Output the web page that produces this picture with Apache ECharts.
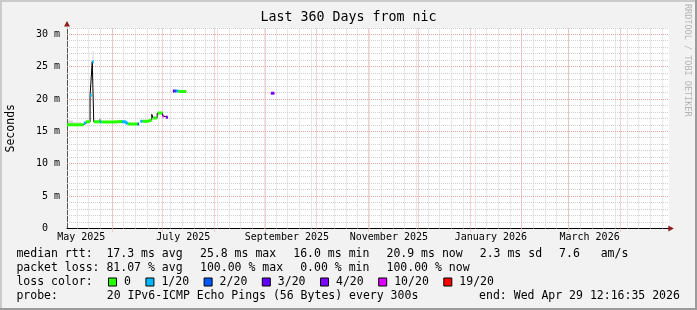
<!DOCTYPE html>
<html><head><meta charset="utf-8">
<script src="https://cdn.jsdelivr.net/npm/echarts@6/dist/echarts.min.js"></script>
<style>html,body{margin:0;padding:0;background:#f2f2f2}#c{width:697px;height:310px}</style>
</head><body><div id="c"></div>
<script>
// ---------- data ----------
const AXIS_START = '2025-05-05';   // left edge of the time axis
const AXIS_DAYS = 360;
const Y_MAX = 31;                  // ms

// median rtt as steps: days since axis start, value in ms, loss bucket (-1 = no colour)
const segStart = [0, 10.0, 11.2, 13.8, 15.1, 16.0, 19.5, 20.4, 27.5, 32.9, 34.7, 36.3, 42.3, 43.9, 45.1, 48.7, 50.7, 51.4, 53.9, 54.3, 57.1, 57.9, 59.1, 63.3, 64.5, 65.3, 66.6, 121.9];
const segEnd   = [10.0, 11.2, 13.8, 14.8, 16.0, 19.5, 20.4, 27.5, 32.9, 34.7, 36.3, 42.3, 43.1, 45.1, 48.7, 50.7, 51.4, 53.9, 54.3, 57.1, 57.9, 59.1, 60.3, 64.5, 65.3, 66.6, 71.3, 124.0];
const segValue = [16.05, 16.3, 16.5, 20.6, 25.8, 16.5, 16.5, 16.45, 16.55, 16.5, 16.2, 16.15, 16.15, 16.6, 16.6, 16.8, 17.65, 17.1, 17.8, 17.85, 17.4, 17.3, 17.2, 21.25, 21.25, 21.25, 21.2, 20.9];
const segLoss  = [0, 1, 0, 1, 1, 0, 1, 0, 0, 1, 1, 0, 2, 1, 0, 0, -1, 0, -1, 0, 5, -1, 4, 3, 2, 1, 0, 4];

// smoke (spread of the pings)
const smokeStart = [0.6, 3.6, 15.3, 19.2];
const smokeEnd   = [3.6, 8.2, 16.0, 20.4];
const smokeLow   = [16.25, 16.25, 25.8, 16.6];
const smokeHigh  = [16.7, 16.45, 27.5, 17.0];
const smokeShade = ['#d6d6d6', '#dadada', '#dedede', '#8c8c8c'];

const lossLabels = ['0', '1/20', '2/20', '3/20', '4/20', '10/20', '19/20'];
const lossColors = ['#26ff00', '#00b8ff', '#0059ff', '#5e00ff', '#7e00ff', '#dd00ff', '#ff0000'];

const monthLines = ['2025-06-01','2025-07-01','2025-08-01','2025-09-01','2025-10-01','2025-11-01','2025-12-01','2026-01-01','2026-02-01','2026-03-01','2026-04-01'];
const firstWeekLine = '2025-05-11';
const xLabelMonths = ['2025-05-01','2025-07-01','2025-09-01','2025-11-01','2026-01-01','2026-03-01'];
const xLabelText = ['May 2025','July 2025','September 2025','November 2025','January 2026','March 2026'];
const yMajorStep = 5;

const titleText = 'Last 360 Days from nic';
const yName = 'Seconds';
const rowLabels = ['median rtt:', 'packet loss:', 'loss color:', 'probe:'];
const medianStats = ['median rtt:  17.3 ms avg', '25.8 ms max', '16.0 ms min', '20.9 ms now', '2.3 ms sd', '7.6   am/s'];
const lossStats = ['packet loss: 81.07 % avg', '100.00 % max', '0.00 % min', '100.00 % now'];
const probeText = '20 IPv6-ICMP Echo Pings (56 Bytes) every 300s';
const endText = 'end: Wed Apr 29 12:16:35 2026';
const watermark = 'RRDTOOL / TOBI OETIKER';

// ---------- build ----------
const FONT = '"DejaVu Sans Mono", monospace';
const CHAR_W = 6.95, ITEM_GAP = 16.8, LEFT_X = 16.4;
const DAY = 86400000;
const t0 = Date.parse(AXIS_START + 'T00:00:00Z');
const dayOf = s => (Date.parse(s + 'T00:00:00Z') - t0) / DAY;
const LABEL_SHIFT = 12.5;

const monthDays = monthLines.map(dayOf);
const weekDays = [];
for (let d = dayOf(firstWeekLine); d < AXIS_DAYS; d += 7) weekDays.push(d);
const labelDays = xLabelMonths.map(s => dayOf(s) + LABEL_SHIFT);
const hLines = [];
for (let v = 1; v <= Y_MAX; v++) hLines.push(v);

// black median line
const medianPts = [];
for (let i = 0; i < segStart.length; i++) {
  if (i > 0 && segStart[i] - segEnd[i - 1] > 0.5) medianPts.push([segEnd[i - 1], '-']);
  medianPts.push([segStart[i], segValue[i]], [segEnd[i], segValue[i]]);
}
// coloured loss lines
function bucketPts(b) {
  const pts = [];
  for (let i = 0; i < segStart.length; i++) {
    if (segLoss[i] !== b) continue;
    pts.push([segStart[i], segValue[i]], [segEnd[i], segValue[i]]);
    const nextOk = i + 1 < segStart.length && segLoss[i + 1] === b && Math.abs(segStart[i + 1] - segEnd[i]) < 0.01;
    if (!nextOk) pts.push([segEnd[i], '-']);
  }
  return pts;
}

const RED = '#e9a2a2', GRAY = '#d0d0d0';
const crisp = v => Math.floor(v) + 0.5;

const series = [];
// vertical grid: weeks (kind 0) then months (kind 1)
series.push({
  type: 'custom', name: 'vgrid', z: 1, silent: true, animation: false, clip: false,
  data: weekDays.map(d => [d, 0]).concat(monthDays.map(d => [d, 1])),
  renderItem: (params, api) => {
    const p0 = api.coord([api.value(0), 0]);
    const p1 = api.coord([api.value(0), Y_MAX]);
    const x = crisp(p0[0]);
    const major = api.value(1) === 1;
    return { type: 'line', z2: major ? 2 : 1, shape: { x1: x, y1: p0[1] + (major ? 3 : 0), x2: x, y2: p1[1] },
      style: { stroke: major ? RED : GRAY, lineWidth: 1, lineDash: [1, 1] } };
  }
});
// horizontal grid
series.push({
  type: 'custom', name: 'hgrid', z: 1, silent: true, animation: false, clip: false,
  data: hLines.map(v => [0, v]),
  renderItem: (params, api) => {
    const v = api.value(1);
    const p0 = api.coord([0, v]);
    const p1 = api.coord([AXIS_DAYS, v]);
    const y = crisp(p0[1]);
    const major = v % yMajorStep === 0;
    return { type: 'line', z2: major ? 2 : 1, shape: { x1: p0[0], y1: y, x2: p1[0], y2: y },
      style: { stroke: major ? RED : GRAY, lineWidth: 1, lineDash: [1, 1] } };
  }
});
series.push({
  type: 'line', name: 'smoke', data: [], z: 2, silent: true, animation: false,
  markArea: {
    silent: true, animation: false,
    data: smokeStart.map((s, i) => [
      { xAxis: s, yAxis: smokeLow[i], itemStyle: { color: smokeShade[i] } },
      { xAxis: smokeEnd[i], yAxis: smokeHigh[i] }
    ])
  }
});
series.push({
  type: 'line', name: 'median', data: medianPts, z: 3, symbol: 'none', showSymbol: false,
  silent: true, animation: false, connectNulls: false,
  lineStyle: { width: 1, color: '#000' }
});
lossLabels.forEach((lab, b) => {
  series.push({
    type: 'line', name: lab, data: bucketPts(b), z: 4, symbol: 'none', showSymbol: false,
    silent: true, animation: false, connectNulls: false,
    itemStyle: { color: lossColors[b] },
    lineStyle: { width: 3, color: lossColors[b], cap: 'butt' }
  });
});

const txt = (text, x, y, extra) => ({ type: 'text', x, y, silent: true,
  style: Object.assign({ text, fill: '#000', fontFamily: FONT, fontSize: 11.5, verticalAlign: 'middle', align: 'left' }, extra || {}) });
const rowY = [254.3, 268.3, 282.3, 296.2];
// gprint items laid out one after the other, like rrdtool does
function rowItems(items, y) {
  let x = LEFT_X;
  return items.map(s => { const g = txt(s, x, y); x += s.length * CHAR_W + ITEM_GAP; return g; });
}

const graphic = [
  { type: 'rect', shape: { x: 0, y: 0, width: 697, height: 2 }, style: { fill: '#cbcbcb' }, silent: true },
  { type: 'rect', shape: { x: 0, y: 0, width: 2, height: 310 }, style: { fill: '#cbcbcb' }, silent: true },
  { type: 'rect', shape: { x: 0, y: 308, width: 697, height: 2 }, style: { fill: '#9b9b9b' }, silent: true },
  { type: 'rect', shape: { x: 695, y: 0, width: 2, height: 310 }, style: { fill: '#9b9b9b' }, silent: true },
  { type: 'polygon', shape: { points: [[67, 21], [64, 26.5], [70, 26.5]] }, style: { fill: '#8e1c1c' }, silent: true, z: 10 },
  { type: 'polygon', shape: { points: [[673.8, 228.5], [668.3, 225.5], [668.3, 231.5]] }, style: { fill: '#8e1c1c' }, silent: true, z: 10 },
  { type: 'text', x: 687, y: 4, rotation: -Math.PI / 2, silent: true,
    style: { text: watermark, fill: '#b4b4b4', fontFamily: FONT, fontSize: 8.5, align: 'left', verticalAlign: 'middle' } }
];
rowItems(medianStats, rowY[0]).forEach(g => graphic.push(g));
rowItems(lossStats, rowY[1]).forEach(g => graphic.push(g));
graphic.push(txt(rowLabels[2], LEFT_X, rowY[2]));
graphic.push(txt(rowLabels[3], LEFT_X, rowY[3]));
graphic.push(txt(probeText, LEFT_X + 13 * CHAR_W, rowY[3]));
graphic.push(txt(endText, 479.1, rowY[3]));

const chart = echarts.init(document.getElementById('c'), null, { renderer: 'canvas' });
chart.setOption({
  animation: false,
  backgroundColor: '#f2f2f2',
  title: { text: titleText, left: 'center', top: 11, padding: 0,
    textStyle: { fontFamily: FONT, fontSize: 13.3, fontWeight: 'normal', color: '#000' } },
  legend: {
    data: lossLabels, left: 108, top: 276, padding: 0, itemWidth: 8, itemHeight: 8, itemGap: 14.5,
    icon: 'rect', selectedMode: false,
    itemStyle: { borderColor: '#000', borderWidth: 1 },
    textStyle: { fontFamily: FONT, fontSize: 11.5, color: '#000', padding: [0, 0, 0, 2.5] }
  },
  grid: { left: 67, right: 28, top: 28, bottom: 81.5, show: true, backgroundColor: '#fff', borderWidth: 0,
    containLabel: false, outerBoundsMode: 'none' },
  xAxis: {
    type: 'value', min: 0, max: AXIS_DAYS,
    axisLine: { show: true, onZero: false, lineStyle: { color: '#000', width: 1 } },
    axisTick: { show: false },
    axisLabel: {
      customValues: labelDays, margin: 4, fontFamily: FONT, fontSize: 10, color: '#000',
      formatter: v => { const i = labelDays.findIndex(d => Math.abs(d - v) < 1e-6); return i >= 0 ? xLabelText[i] : ''; }
    },
    splitLine: { show: false }
  },
  yAxis: {
    type: 'value', min: 0, max: Y_MAX, interval: 1,
    name: yName, nameLocation: 'middle', nameGap: 50,
    nameTextStyle: { fontFamily: FONT, fontSize: 11.5, color: '#000' },
    axisLine: { show: true, lineStyle: { color: '#555', width: 1 } },
    axisTick: { show: false },
    axisLabel: { margin: 7, fontFamily: FONT, fontSize: 10, color: '#000',
      formatter: v => v % yMajorStep === 0 ? (v === 0 ? '0  ' : v + ' m') : '' },
    splitLine: { show: false }
  },
  series,
  graphic
});
</script></body></html>
